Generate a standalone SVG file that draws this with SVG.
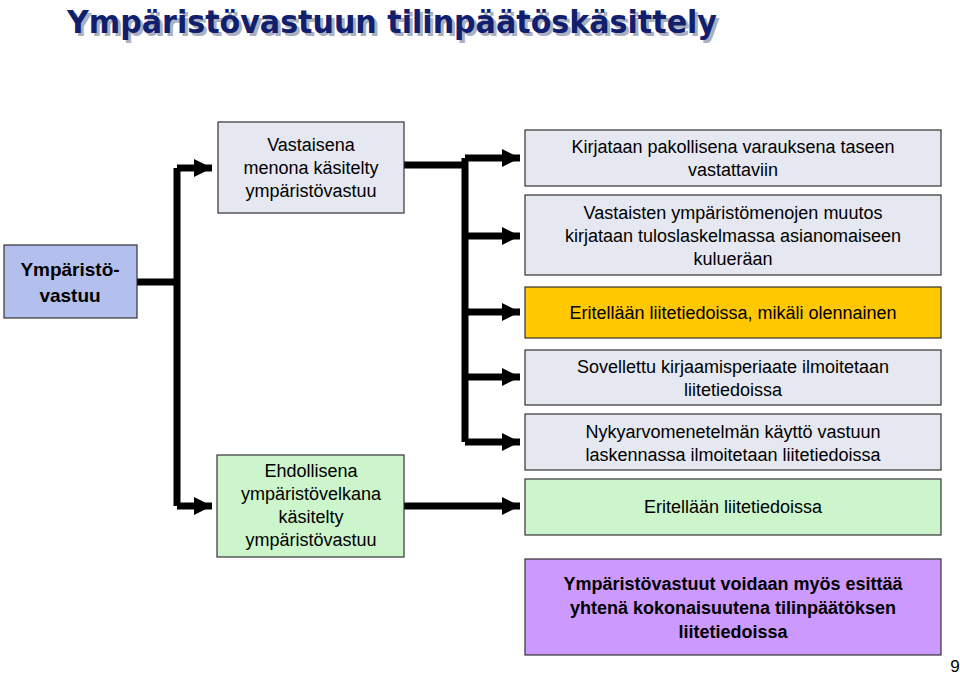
<svg xmlns="http://www.w3.org/2000/svg" width="960" height="675" viewBox="0 0 960 675">
<style>
text{font-family:"Liberation Sans",Arial,sans-serif;font-size:18px;fill:#000;text-anchor:middle}
.b{stroke:#333;stroke-width:1.2}
.c{fill:none;stroke:#000;stroke-width:7}
.bold{font-weight:bold}
.t{font-family:"DejaVu Sans",sans-serif;font-size:32px;font-weight:bold}
</style>
<defs><marker id="a" viewBox="0 0 10 10" refX="10" refY="5" markerWidth="2.6" markerHeight="2.6" orient="auto" markerUnits="strokeWidth"><path d="M0,0L10,5L0,10z" fill="#000"/></marker></defs>
<rect width="960" height="675" fill="#fff"/>
<g id="title"><text class="t" x="392" y="33" textLength="650" lengthAdjust="spacingAndGlyphs" style="fill:#aab0c0" dx="3" dy="3">Ympäristövastuun tilinpäätöskäsittely</text>
<text class="t" x="392" y="33" textLength="650" lengthAdjust="spacingAndGlyphs" style="fill:#10206e">Ympäristövastuun tilinpäätöskäsittely</text></g>
<g id="connectors">
<path class="c" d="M137,282H177M177,168V506"/>
<path class="c" d="M177,168H212" marker-end="url(#a)"/>
<path class="c" d="M177,506H212" marker-end="url(#a)"/>
<path class="c" d="M404,165H465M465,158V442"/>
<path class="c" d="M465,158H520" marker-end="url(#a)"/>
<path class="c" d="M465,236H520" marker-end="url(#a)"/>
<path class="c" d="M465,312H520" marker-end="url(#a)"/>
<path class="c" d="M465,377H520" marker-end="url(#a)"/>
<path class="c" d="M465,442H520" marker-end="url(#a)"/>
<path class="c" d="M404,506H520" marker-end="url(#a)"/>
</g>
<g id="root"><rect class="b" x="4" y="245" width="133" height="73" fill="#b3bfec"/><text class="bold" x="70" y="276" style="font-size:19px">Ympäristö-</text><text class="bold" x="70" y="302" style="font-size:19px">vastuu</text></g>
<g id="n1"><rect class="b" x="218" y="122" width="186" height="91" fill="#e5e8f0"/><text x="311" y="151">Vastaisena</text><text x="311" y="174">menona käsitelty</text><text x="311" y="197">ympäristövastuu</text></g>
<g id="n2"><rect class="b" x="217" y="455" width="187" height="102" fill="#ccf5cc"/><text x="311" y="477">Ehdollisena</text><text x="311" y="500">ympäristövelkana</text><text x="311" y="523">käsitelty</text><text x="311" y="546">ympäristövastuu</text></g>
<g id="r1"><rect class="b" x="525" y="130" width="416" height="56" fill="#e5e8f0"/><text x="733" y="153">Kirjataan pakollisena varauksena taseen</text><text x="733" y="176">vastattaviin</text></g>
<g id="r2"><rect class="b" x="525" y="195" width="416" height="80" fill="#e5e8f0"/><text x="733" y="219">Vastaisten ympäristömenojen muutos</text><text x="733" y="242">kirjataan tuloslaskelmassa asianomaiseen</text><text x="733" y="265">kulueräan</text></g>
<g id="r3"><rect class="b" x="525" y="287" width="416" height="51" fill="#ffc800"/><text x="733" y="319">Eritellään liitetiedoissa, mikäli olennainen</text></g>
<g id="r4"><rect class="b" x="525" y="350" width="416" height="55" fill="#e5e8f0"/><text x="733" y="373">Sovellettu kirjaamisperiaate ilmoitetaan</text><text x="733" y="396">liitetiedoissa</text></g>
<g id="r5"><rect class="b" x="525" y="414" width="416" height="56" fill="#e5e8f0"/><text x="733" y="438">Nykyarvomenetelmän käyttö vastuun</text><text x="733" y="461">laskennassa ilmoitetaan liitetiedoissa</text></g>
<g id="r6"><rect class="b" x="525" y="479" width="416" height="56" fill="#ccf5cc"/><text x="733" y="513">Eritellään liitetiedoissa</text></g>
<g id="r7"><rect class="b" x="525" y="559" width="416" height="96" fill="#cc99ff"/><text class="bold" x="733" y="590" style="font-size:18px">Ympäristövastuut voidaan myös esittää</text><text class="bold" x="733" y="614" style="font-size:18px">yhtenä kokonaisuutena tilinpäätöksen</text><text class="bold" x="733" y="638" style="font-size:18px">liitetiedoissa</text></g>
<text x="955" y="672" style="font-size:17px">9</text>
</svg>
